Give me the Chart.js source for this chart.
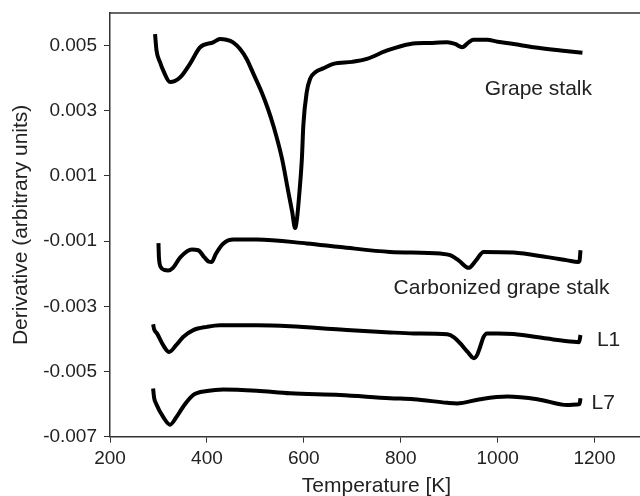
<!DOCTYPE html>
<html><head><meta charset="utf-8">
<script src="https://cdn.jsdelivr.net/npm/chart.js@4"></script>
<style>
html,body{margin:0;padding:0;background:#fff;overflow:hidden;width:640px;height:496px}
#wrap{width:646px;height:496px;position:relative}
</style></head>
<body><div id="wrap"><canvas id="c"></canvas></div>
<script>
// ---- data ----
const xTicks = [200, 400, 600, 800, 1000, 1200];
const yTicks = [-0.007, -0.005, -0.003, -0.001, 0.001, 0.003, 0.005];
const seriesNames = ['Grape stalk', 'Carbonized grape stalk', 'L1', 'L7'];

const grapeT = [293, 296, 303, 310, 324, 345, 365, 386, 413, 427, 440, 454, 468, 482, 497, 513, 525, 537, 555, 568, 576, 582, 586, 591, 596, 599, 606, 613, 625, 640, 661, 700, 730, 772, 820, 860, 896, 912, 927, 940, 950, 978, 1000, 1033, 1074, 1130, 1175];
const grapeV = [0.00535, 0.00485, 0.0045, 0.00423, 0.00388, 0.00403, 0.00444, 0.00495, 0.0051, 0.0052, 0.00518, 0.0051, 0.0049, 0.00459, 0.0041, 0.00357, 0.0031, 0.00255, 0.00153, 0.00051, -0.0001, -0.0006, -0.0003, 0.00051, 0.00153, 0.00255, 0.00357, 0.00398, 0.0042, 0.0043, 0.00444, 0.0045, 0.00459, 0.00485, 0.00505, 0.00508, 0.0051, 0.00505, 0.00495, 0.0051, 0.00518, 0.00518, 0.00512, 0.00505, 0.00495, 0.00485, 0.00478];

const carbT = [300, 301, 305, 312, 320, 330, 345, 369, 382, 395, 404, 410, 418, 434, 455, 503, 606, 675, 778, 882, 902, 920, 940, 955, 971, 1033, 1102, 1144, 1166, 1169, 1171];
const carbV = [-0.00106, -0.0015, -0.0018, -0.00188, -0.0019, -0.00182, -0.0015, -0.00126, -0.00128, -0.0015, -0.00163, -0.00164, -0.0014, -0.00107, -0.00095, -0.00095, -0.00107, -0.00118, -0.00133, -0.00138, -0.00143, -0.0016, -0.00182, -0.0016, -0.00133, -0.00135, -0.00149, -0.00159, -0.00164, -0.0016, -0.00128];

const l1T = [289, 291, 297, 310, 322, 336, 351, 372, 400, 427, 503, 572, 675, 778, 827, 896, 910, 923, 938, 951, 958, 964, 971, 978, 1000, 1033, 1102, 1157, 1168, 1171];
const l1V = [-0.00355, -0.0037, -0.00383, -0.0042, -0.0044, -0.0042, -0.00394, -0.00373, -0.00363, -0.00358, -0.00358, -0.00361, -0.00371, -0.0038, -0.00383, -0.00386, -0.00395, -0.00414, -0.0044, -0.00459, -0.00448, -0.00424, -0.00394, -0.00383, -0.00383, -0.00385, -0.00399, -0.00409, -0.0041, -0.00388];

const l7T = [289, 291, 295, 310, 324, 337, 351, 372, 400, 434, 503, 572, 675, 778, 827, 896, 916, 964, 1020, 1082, 1144, 1164, 1169, 1171];
const l7V = [-0.00552, -0.0058, -0.00598, -0.0064, -0.00663, -0.0064, -0.00608, -0.00572, -0.0056, -0.00555, -0.00559, -0.00567, -0.00572, -0.00582, -0.00585, -0.00596, -0.00598, -0.00585, -0.00577, -0.00585, -0.00603, -0.00601, -0.006, -0.00582];

// ---- chart ----
const FONT = '"Liberation Sans", Arial, Helvetica, sans-serif';
const seriesT = [grapeT, carbT, l1T, l7T];
const seriesV = [grapeV, carbV, l1V, l7V];
const datasets = seriesNames.map((n, i) => ({
  label: n,
  data: seriesT[i].map((t, k) => ({x: t, y: seriesV[i][k]})),
  borderColor: '#000',
  backgroundColor: '#000',
  borderWidth: 4,
  pointRadius: 0,
  cubicInterpolationMode: 'monotone',
  fill: false
}));

// label anchors in data units (text placement)
const labelAnchor = [[1084, 0.00367], [1008, -0.00244], [1229, -0.00404], [1218, -0.00596]];

const extras = {
  id: 'extras',
  afterDraw(chart) {
    const {ctx, chartArea, scales} = chart;
    ctx.save();
    ctx.strokeStyle = '#333';
    ctx.lineWidth = 1.5;
    ctx.beginPath();
    ctx.moveTo(chartArea.left, chartArea.top);
    ctx.lineTo(chartArea.right, chartArea.top);
    ctx.stroke();
    ctx.fillStyle = '#222';
    ctx.font = '21px ' + FONT;
    ctx.textAlign = 'center';
    ctx.textBaseline = 'middle';
    seriesNames.forEach((n, i) => {
      ctx.fillText(n, scales.x.getPixelForValue(labelAnchor[i][0]), scales.y.getPixelForValue(labelAnchor[i][1]));
    });
    ctx.restore();
  }
};

new Chart(document.getElementById('c'), {
  type: 'line',
  data: {datasets},
  options: {
    responsive: true,
    maintainAspectRatio: false,
    animation: false,
    layout: {padding: {top: 13, right: 3, left: 0, bottom: 0}},
    plugins: {legend: {display: false}, tooltip: {enabled: false}},
    scales: {
      x: {
        type: 'linear', min: 200, max: 1300,
        afterBuildTicks: s => { s.ticks = xTicks.map(v => ({value: v})); },
        afterFit: s => { s.height = 59.3; s.paddingLeft = 0; s.paddingRight = 0; },
        ticks: {color: '#222', font: {size: 19, family: FONT}, padding: 5, maxRotation: 0, autoSkip: false, callback: v => String(v)},
        grid: {drawOnChartArea: false, drawTicks: true, tickLength: 6, color: '#333', lineWidth: 1},
        border: {display: true, color: '#333', width: 1.5},
        title: {display: true, text: 'Temperature [K]', color: '#222', font: {size: 21, family: FONT}, padding: {top: 0, bottom: -3.3}}
      },
      y: {
        type: 'linear', min: -0.007, max: 0.006,
        afterBuildTicks: s => { s.ticks = yTicks.map(v => ({value: v})); },
        afterFit: s => { s.width = 110; s.paddingTop = 0; s.paddingBottom = 0; },
        ticks: {color: '#222', font: {size: 19, family: FONT}, padding: 7, callback: v => Number(v).toFixed(3)},
        grid: {drawOnChartArea: false, drawTicks: true, tickLength: 6, color: '#333', lineWidth: 1},
        border: {display: true, color: '#333', width: 1.5},
        title: {display: true, text: 'Derivative (arbitrary units)', color: '#222', font: {size: 21, family: FONT}, padding: {top: 9, bottom: 0}}
      }
    }
  },
  plugins: [extras]
});
</script>
</body></html>
